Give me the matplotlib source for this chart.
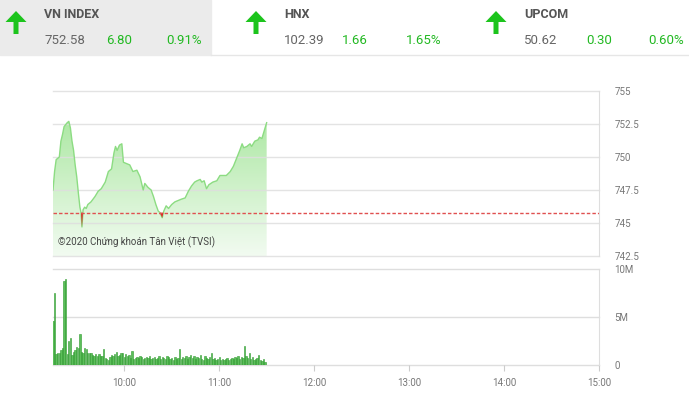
import numpy as np
import matplotlib.pyplot as plt
from matplotlib.patches import Rectangle, FancyArrow
from matplotlib.colors import LinearSegmentedColormap

# ---- header data
idx_names = ['VN INDEX', 'HNX', 'UPCOM']
idx_values = ['752.58', '102.39', '50.62']
idx_changes = ['6.80', '1.66', '0.30']
idx_pcts = ['0.91%', '1.65%', '0.60%']

# ---- intraday VN-Index (minutes after 9:00, index points)
price_min = [15, 16, 17, 19, 20, 21, 22, 24, 25, 26, 27, 28, 29, 30, 31, 32, 32.7, 33.3,
             34, 35, 36, 37, 39, 41.5, 43.5, 45.5, 48, 50, 52, 53.5, 54.5, 55.5, 57, 58.5,
             59.5, 61.5, 63.5, 65.5, 68, 70, 72, 73, 75, 77, 78.5, 80, 81.5, 82.5, 84, 85,
             86.5, 88, 90, 92, 94, 96, 98.5, 100.5, 102.5, 104.5, 106, 108, 109, 110.5, 112,
             113.5, 116, 118.5, 120.5, 122.5, 124.5, 127, 129, 131, 133, 134.5, 135.5, 137.5,
             139.5, 140.5, 142.5, 144.5, 145.5, 147, 148.5, 150]
price_val = [747.5, 748.9, 749.8, 750.0, 751.2, 751.7, 752.3, 752.6, 752.7, 752.2, 751.2,
             750.5, 749.4, 748.5, 747.3, 746.2, 745.8, 744.7, 746.0, 746.2, 746.1, 746.4,
             746.6, 747.0, 747.4, 747.6, 748.1, 748.9, 749.1, 750.3, 750.8, 750.5, 750.9,
             751.0, 749.6, 749.5, 749.4, 748.9, 749.0, 748.5, 747.5, 748.0, 747.7, 747.5,
             747.0, 746.4, 745.9, 745.8, 745.4, 745.9, 746.3, 746.1, 746.4, 746.6, 746.7,
             746.8, 746.9, 747.4, 747.8, 748.1, 748.2, 748.3, 748.1, 748.2, 747.6, 747.9,
             748.1, 748.2, 748.6, 748.6, 748.6, 748.9, 749.3, 749.9, 750.5, 751.0, 750.7,
             750.8, 751.0, 750.8, 751.2, 751.3, 751.5, 751.4, 752.0, 752.6]
ref_price = 745.78

# ---- volume per minute from 9:15, millions of shares
volume = [4.6, 7.5, 1.1, 1.2, 1.3, 1.6, 1.8, 8.7, 9.0, 1.1, 2.5, 2.8, 1.0, 1.4, 1.6, 1.9,
          1.8, 3.2, 1.4, 1.3, 1.8, 1.7, 1.3, 1.2, 1.2, 1.0, 0.9, 1.1, 0.9, 1.1, 0.9, 0.9,
          1.7, 0.7, 0.6, 0.5,
          0.8, 1.0, 0.9, 1.1, 1.4, 0.9, 1.0, 1.2, 1.3, 0.8, 1.1, 0.9, 1.0, 0.7, 1.5,
          0.6, 0.7, 0.8, 0.7, 0.9, 0.8, 0.6, 0.7, 0.8, 0.7, 0.9, 0.6, 0.7, 0.8, 0.6,
          0.7, 0.9, 0.6, 0.8, 0.7, 0.6, 0.9, 0.8, 0.6, 0.7, 0.5, 0.8, 0.6, 0.7, 1.7,
          0.6, 0.8, 0.7, 0.9, 0.6, 0.8, 1.0, 0.7, 0.9, 0.6, 0.8, 0.7, 1.0, 0.6, 0.5,
          0.9, 0.7, 0.6, 0.8, 1.2,
          0.6, 0.7, 0.5, 0.6, 0.8, 0.5, 0.6, 0.5, 0.6, 0.7, 0.5, 0.6, 0.7, 0.6, 0.8,
          0.7, 0.9, 0.6, 0.8, 0.7,
          2.0, 0.9, 0.7, 1.2, 0.6, 0.8, 0.5, 0.6, 0.7, 1.0, 0.5, 0.4, 0.6, 0.3]
vol_start = 15

x_ticks = [60, 120, 180, 240, 300, 360]
x_labels = ['10:00', '11:00', '12:00', '13:00', '14:00', '15:00']
price_ticks = [742.5, 745, 747.5, 750, 752.5, 755]
price_labels = ['742.5', '745', '747.5', '750', '752.5', '755']
vol_ticks = [0, 5, 10]
vol_labels = ['0', '5M', '10M']

plt.rcParams['font.family'] = ['Roboto', 'DejaVu Sans']
W, H = 689, 394
fig = plt.figure(figsize=(W / 100, H / 100), dpi=100)

GREEN = '#22b922'
GRID = '#dedede'
TICK = '#777777'

# ---- header (pixel coords overlay)
hdr = fig.add_axes([0, 0, 1, 1])
hdr.set_xlim(0, W)
hdr.set_ylim(H, 0)
hdr.axis('off')
hdr.add_patch(Rectangle((0, 0), 211, 55, color='#ebebeb', zorder=0))
hdr.plot([211, W], [55, 55], color='#e6e6e6', lw=1)

arrow_x = [16, 256, 496]
text_x = [44, 284, 524]
chg_x = [106, 342, 586]
pct_x = [166, 406, 648]
for i in range(3):
    hdr.add_patch(FancyArrow(arrow_x[i], 34, 0, -12, width=5, head_width=21,
                             head_length=11, length_includes_head=False,
                             color='#1cc41c', lw=0))
    hdr.text(text_x[i], 14, idx_names[i], fontsize=9, fontweight='bold',
             color='#555555', va='center', ha='left')
    hdr.text(text_x[i], 40, idx_values[i], fontsize=9.5, color='#666666',
             va='center', ha='left')
    hdr.text(chg_x[i], 40, idx_changes[i], fontsize=9.5, color=GREEN,
             va='center', ha='left')
    hdr.text(pct_x[i], 40, idx_pcts[i], fontsize=9.5, color=GREEN,
             va='center', ha='left')

# ---- price panel
left, right = 53 / W, 599 / W
ax = fig.add_axes([left, 1 - 256 / H, right - left, (256 - 91) / H])
ax.set_xlim(15, 360)
ax.set_ylim(742.5, 755)

pm = np.array(price_min, dtype=float)
pv = np.array(price_val)

cmap = LinearSegmentedColormap.from_list('g', ['#f2fbf1', '#9fe494'])
grad = np.linspace(0, 1, 256).reshape(-1, 1)
poly = ax.fill_between(pm, pv, 742.5, color='none', lw=0)
im = ax.imshow(grad, cmap=cmap, origin='lower', aspect='auto',
               extent=[pm[0], pm[-1], 742.5, 755], zorder=1)
im.set_clip_path(poly.get_paths()[0], transform=ax.transData)

for t in price_ticks:
    ax.axhline(t, color=GRID, lw=1, alpha=0.85, zorder=1.5, clip_on=False)
ax.fill_between(pm, pv, ref_price, where=pv < ref_price, interpolate=True,
                color='#e02020', lw=0, zorder=3)
ax.plot(pm, pv, color='#8cdc82', lw=1, zorder=2)
ax.axhline(ref_price, color='#e05050', lw=1, ls=(0, (2.5, 1.5)), zorder=4)

ax.set_yticks(price_ticks)
ax.set_yticklabels(price_labels)
ax.yaxis.tick_right()
ax.tick_params(axis='y', length=0, pad=11, labelsize=7, labelcolor=TICK)
ax.set_xticks([])
for s in ['top', 'left', 'bottom']:
    ax.spines[s].set_visible(False)
ax.spines['right'].set_color(GRID)
ax.text(18, 743.3, '©2020 Chứng khoán Tân Việt (TVSI)', fontsize=7,
        color='#444444', zorder=5)

# ---- volume panel
axv = fig.add_axes([left, 1 - 365 / H, right - left, (365 - 269) / H])
vt = vol_start + np.arange(len(volume))
axv.bar(vt, volume, width=0.85, color='#5cbf5a', edgecolor='#2f9a2f', lw=0.4, zorder=3)
axv.set_xlim(15, 360)
axv.set_ylim(0, 10)
for t in vol_ticks:
    axv.axhline(t, color=GRID, lw=1, zorder=1, clip_on=False)
axv.set_yticks(vol_ticks)
axv.set_yticklabels(vol_labels)
axv.yaxis.tick_right()
axv.tick_params(axis='y', length=0, pad=11, labelsize=7, labelcolor=TICK)
axv.set_xticks(x_ticks)
axv.set_xticklabels(x_labels)
axv.tick_params(axis='x', length=4, color='#cccccc', labelsize=7, labelcolor=TICK, pad=5)
for s in ['top', 'left', 'bottom']:
    axv.spines[s].set_visible(False)
axv.spines['right'].set_color(GRID)

fig.savefig('out.png', dpi=100)
